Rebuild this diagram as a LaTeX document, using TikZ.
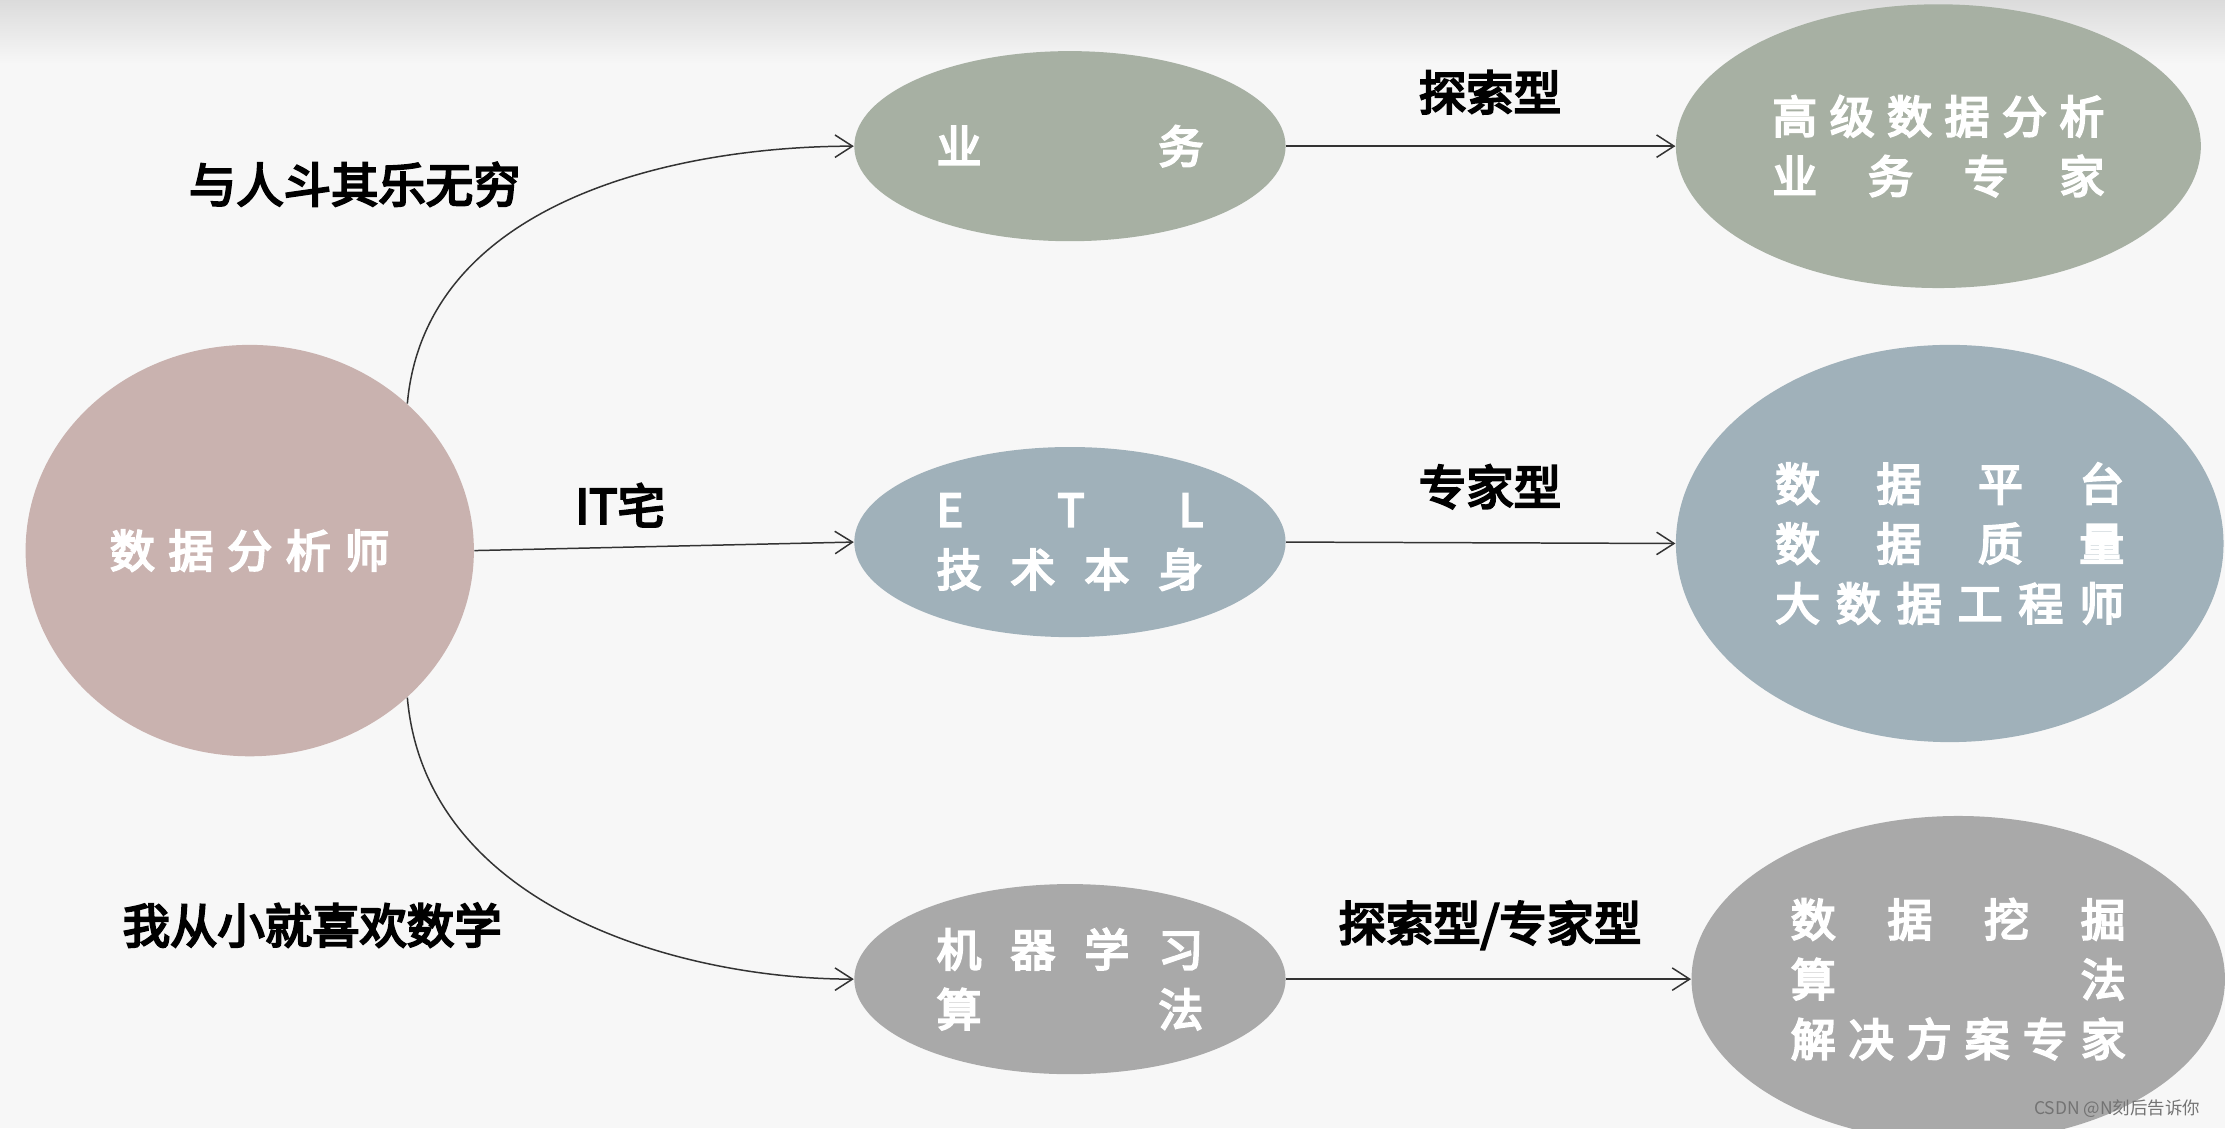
\documentclass[tikz,border=0pt]{standalone}
\usepackage{fontspec}
\setmainfont{Noto Sans CJK SC}[AutoFakeBold=4.5]
\usetikzlibrary{shapes.geometric,arrows.meta}
\definecolor{bgc}{HTML}{F7F7F7}
\definecolor{cpink}{HTML}{C9B2AF}
\definecolor{cgreen}{HTML}{A7B0A3}
\definecolor{cblue}{HTML}{A0B1BA}
\definecolor{cgray}{HTML}{A9A9A9}
\newcommand{\spr}[2]{\makebox[#1][s]{#2}}
\tikzset{
 ell/.style={ellipse,draw=none,inner sep=0pt,text=white,font=\fontsize{18}{24}\selectfont\bfseries,align=center},
 lab/.style={font=\fontsize{19}{22}\selectfont\bfseries,text=black},
 conn/.style={draw=black!80,line width=0.6pt,-{Straight Barb[length=7pt,width=9pt]}}
}
\begin{document}
\begin{tikzpicture}[x=0.02cm,y=-0.02cm]
\fill[bgc] (0,0) rectangle (1568,795);
\shade[top color=black!14,bottom color=bgc] (0,0) rectangle (1568,45);
\useasboundingbox (0,0) rectangle (1568,795);
\node[ell,fill=cpink,minimum width=6.32cm,minimum height=5.8cm] (a) at (176,388) {\spr{3.94cm}{数\hfill 据\hfill 分\hfill 析\hfill 师}};
\node[ell,fill=cgreen,minimum width=6.08cm,minimum height=2.68cm] (b1) at (754,103) {\spr{3.76cm}{业\hfill 务}};
\node[ell,fill=cblue,minimum width=6.08cm,minimum height=2.68cm] (b2) at (754,382) {\spr{3.76cm}{E\hfill T\hfill L}\\\spr{3.76cm}{技\hfill 术\hfill 本\hfill 身}};
\node[ell,fill=cgray,minimum width=6.08cm,minimum height=2.68cm] (b3) at (754,690) {\spr{3.76cm}{机\hfill 器\hfill 学\hfill 习}\\\spr{3.76cm}{算\hfill 法}};
\node[ell,fill=cgreen,minimum width=7.4cm,minimum height=4cm] (c1) at (1366,103) {\spr{4.68cm}{高\hfill 级\hfill 数\hfill 据\hfill 分\hfill 析}\\\spr{4.68cm}{业\hfill 务\hfill 专\hfill 家}};
\node[ell,fill=cblue,minimum width=7.72cm,minimum height=5.6cm] (c2) at (1374,383) {\spr{4.92cm}{数\hfill 据\hfill 平\hfill 台}\\\spr{4.92cm}{数\hfill 据\hfill 质\hfill 量}\\\spr{4.92cm}{大\hfill 数\hfill 据\hfill 工\hfill 程\hfill 师}};
\node[ell,fill=cgray,minimum width=7.52cm,minimum height=4.6cm] (c3) at (1380,690) {\spr{4.72cm}{数\hfill 据\hfill 挖\hfill 掘}\\\spr{4.72cm}{算\hfill 法}\\\spr{4.72cm}{解\hfill 决\hfill 方\hfill 案\hfill 专\hfill 家}};
\draw[conn] (a.43) .. controls (300,140) and (480,103) .. (b1.west);
\draw[conn] (a.east) -- (b2.west);
\draw[conn] (a.-43) .. controls (300,640) and (480,690) .. (b3.west);
\draw[conn] (b1.east) -- (c1.west);
\draw[conn] (b2.east) -- (c2.west);
\draw[conn] (b3.east) -- (c3.west);
\node[lab] (l1) at (250,130) {与人斗其乐无穷};
\node[lab] (l2) at (437,356) {IT宅};
\node[lab] (l3) at (220,652) {我从小就喜欢数学};
\node[lab] (l4) at (1050,65) {探索型};
\node[lab] (l5) at (1050,343) {专家型};
\node[lab] (l6) at (1050,652) {探索型/专家型};
\node[font=\fontsize{7}{8}\selectfont,text=black!55] (w) at (1492,781) {CSDN @N刻后告诉你};
\end{tikzpicture}
\end{document}
